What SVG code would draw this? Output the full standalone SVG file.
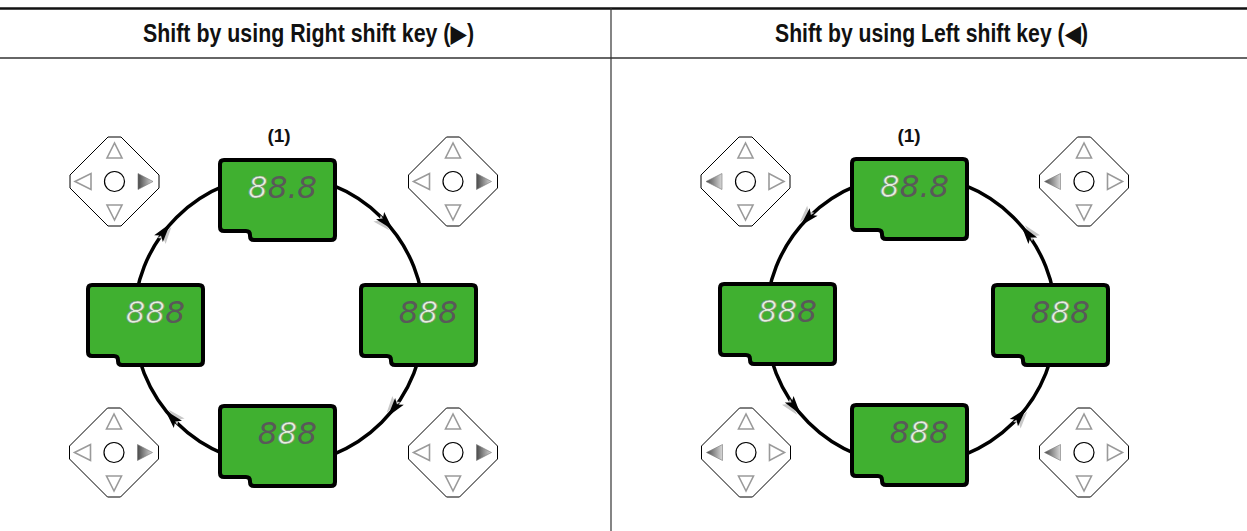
<svg xmlns="http://www.w3.org/2000/svg" xmlns:xlink="http://www.w3.org/1999/xlink" width="1247" height="531" viewBox="0 0 1247 531">
<style>
.hdr{font-family:"Liberation Sans","DejaVu Sans",sans-serif;font-weight:bold;font-size:25px;fill:#111}
.lbl{font-family:"Liberation Sans","DejaVu Sans",sans-serif;font-weight:bold;font-size:19px;fill:#111;text-anchor:middle}
.ring{fill:none;stroke:#000;stroke-width:3.5}
.node{fill:#40b030;stroke:#000;stroke-width:4;stroke-linejoin:round}
.seg{font-family:"DejaVu Sans","Liberation Sans",sans-serif;font-style:italic;font-size:31px;text-anchor:end}
.on{fill:#e4f1de;stroke:#7d8f7a;stroke-width:0.7}
.off{fill:#595959}
.oct{fill:#fff;stroke:#000;stroke-width:1}
.kt{fill:none;stroke:#9a9a9a;stroke-width:1.6;stroke-linejoin:miter}
.kf{fill:url(#kg);stroke:#777;stroke-width:0.6}
.kc{fill:#fff;stroke:#000;stroke-width:1.2}
.ah{fill:#000}
.ahs{fill:#c8c8c8}
</style>
<defs>
<linearGradient id="kg" x1="0" y1="0" x2="1" y2="0">
<stop offset="0" stop-color="#4a4a4a"/>
<stop offset="1" stop-color="#d8d8d8"/>
</linearGradient>
<path id="nshape" d="M6,2 H113 Q117,2 117,6 V78 Q117,82 113,82 H36 Q32,82 32,78 V77 Q32,73 28,73 H6 Q2,73 2,69 V6 Q2,2 6,2 Z"/>
<g id="kbase">
<polygon class="oct" points="-6.5,-44.5 6.5,-44.5 44.5,-6.5 44.5,6.5 6.5,44.5 -6.5,44.5 -44.5,6.5 -44.5,-6.5"/>
<polygon class="kt" points="0,-38.5 -7.5,-23.5 7.5,-23.5"/>
<polygon class="kt" points="0,38.5 -7.5,23.5 7.5,23.5"/>
<circle class="kc" cx="0" cy="0" r="10"/>
</g>
<g id="keyR">
<use xlink:href="#kbase"/>
<polygon class="kt" points="-39.5,0 -23.5,-8 -23.5,8"/>
<polygon class="kf" points="38.5,0 23.5,-8 23.5,8"/>
</g>
<g id="keyL">
<use xlink:href="#kbase"/>
<polygon class="kf" points="-39.5,0 -23.5,-8 -23.5,8"/>
<polygon class="kt" points="38.5,0 23.5,-8 23.5,8"/>
</g>
<g id="arrow">
<path class="ahs" d="M7,3 L-10,-1 L-7,4 L-10,9 Z"/>
<path class="ah" d="M9,0 L-10,-5.5 L-6,0 L-10,5.5 Z"/>
</g>
</defs>
<rect x="0" y="0" width="1247" height="531" fill="#fff"/>

<g id="header">
<line x1="0" y1="8.5" x2="1247" y2="8.5" stroke="#111" stroke-width="2.5"/>
<line x1="0" y1="58" x2="1247" y2="58" stroke="#333" stroke-width="1.5"/>
<line x1="611" y1="8" x2="611" y2="531" stroke="#333" stroke-width="1.2"/>
<text class="hdr" x="143" y="42" textLength="331" lengthAdjust="spacingAndGlyphs">Shift by using Right shift key (▶)</text>
<text class="hdr" x="775" y="42" textLength="313" lengthAdjust="spacingAndGlyphs">Shift by using Left shift key (◀)</text>
</g>

<g id="connectors">
<circle class="ring" cx="279" cy="320" r="145"/>
<circle class="ring" cx="911" cy="320" r="145"/>
<use xlink:href="#arrow" transform="translate(386.8,223) rotate(48)"/>
<use xlink:href="#arrow" transform="translate(393.3,409.3) rotate(128)"/>
<use xlink:href="#arrow" transform="translate(171.2,417) rotate(228)"/>
<use xlink:href="#arrow" transform="translate(164.7,230.7) rotate(308)"/>
<use xlink:href="#arrow" transform="translate(806.7,219.2) rotate(134)"/>
<use xlink:href="#arrow" transform="translate(795.2,407.3) rotate(53)"/>
<use xlink:href="#arrow" transform="translate(1020.4,415.1) rotate(-49)"/>
<use xlink:href="#arrow" transform="translate(1026.8,232.7) rotate(-127)"/>
</g>

<g id="label-left"><text class="lbl" x="279" y="142">(1)</text></g>
<g id="label-right"><text class="lbl" x="909" y="142">(1)</text></g>

<g id="L-top" transform="translate(218,158)">
<use xlink:href="#nshape" class="node"/>
<text class="seg" x="99" y="40"><tspan class="on">8</tspan><tspan class="off">8.8</tspan></text>
</g>
<g id="L-right" transform="translate(359,283)">
<use xlink:href="#nshape" class="node"/>
<text class="seg" x="99" y="40"><tspan class="off">8</tspan><tspan class="on">8</tspan><tspan class="off">8</tspan></text>
</g>
<g id="L-bottom" transform="translate(218,404)">
<use xlink:href="#nshape" class="node"/>
<text class="seg" x="99" y="40"><tspan class="off">8</tspan><tspan class="on">8</tspan><tspan class="off">8</tspan></text>
</g>
<g id="L-left" transform="translate(86,283)">
<use xlink:href="#nshape" class="node"/>
<text class="seg" x="99" y="40"><tspan class="on">88</tspan><tspan class="off">8</tspan></text>
</g>

<g id="R-top" transform="translate(850,157)">
<use xlink:href="#nshape" class="node"/>
<text class="seg" x="99" y="40"><tspan class="on">8</tspan><tspan class="off">8.8</tspan></text>
</g>
<g id="R-right" transform="translate(991,283)">
<use xlink:href="#nshape" class="node"/>
<text class="seg" x="99" y="40"><tspan class="off">8</tspan><tspan class="on">8</tspan><tspan class="off">8</tspan></text>
</g>
<g id="R-bottom" transform="translate(850,403)">
<use xlink:href="#nshape" class="node"/>
<text class="seg" x="99" y="40"><tspan class="off">8</tspan><tspan class="on">8</tspan><tspan class="off">8</tspan></text>
</g>
<g id="R-left" transform="translate(718,282)">
<use xlink:href="#nshape" class="node"/>
<text class="seg" x="99" y="40"><tspan class="on">88</tspan><tspan class="off">8</tspan></text>
</g>

<g id="keypads-left">
<use id="kp-l1" xlink:href="#keyR" transform="translate(114.5,181.5)"/>
<use id="kp-l2" xlink:href="#keyR" transform="translate(453,181.5)"/>
<use id="kp-l3" xlink:href="#keyR" transform="translate(114,452.5)"/>
<use id="kp-l4" xlink:href="#keyR" transform="translate(453,452.5)"/>
</g>
<g id="keypads-right">
<use id="kp-r1" xlink:href="#keyL" transform="translate(745.5,181.5)"/>
<use id="kp-r2" xlink:href="#keyL" transform="translate(1084,181.5)"/>
<use id="kp-r3" xlink:href="#keyL" transform="translate(746,452.5)"/>
<use id="kp-r4" xlink:href="#keyL" transform="translate(1084,452.5)"/>
</g>
</svg>
